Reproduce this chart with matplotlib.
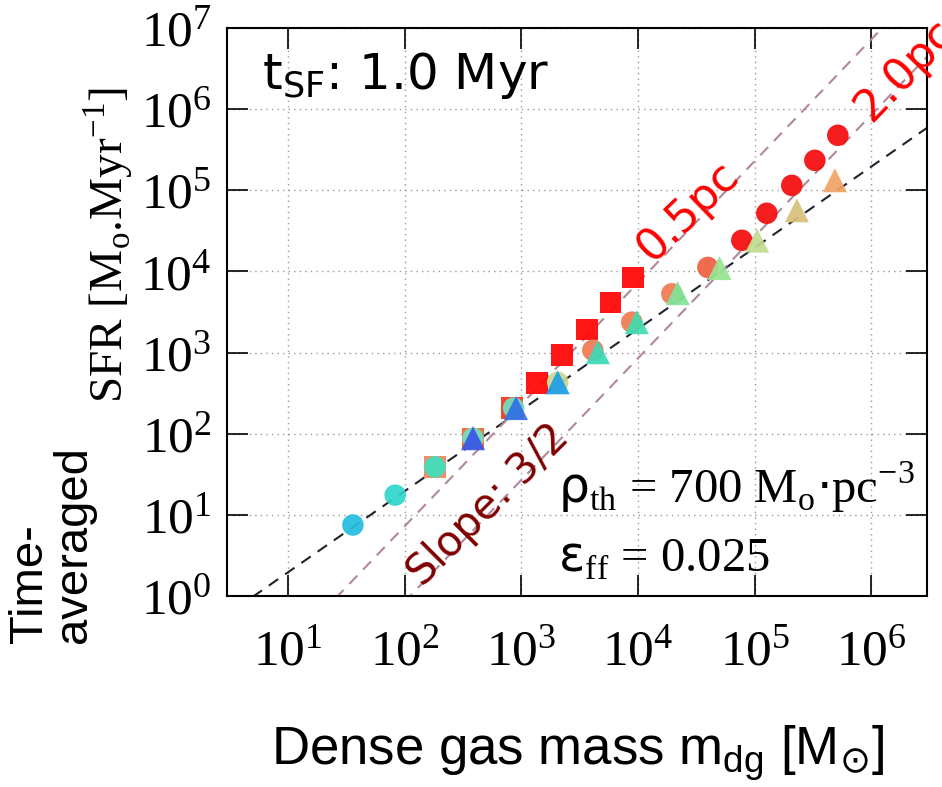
import numpy as np
import matplotlib
matplotlib.use("Agg")
import matplotlib.pyplot as plt

# ---------------- data ----------------
sq_m = [182, 385, 830, 1360, 2230, 3650, 5850, 9040]
sq_sfr = [39, 88, 207, 420, 930, 1940, 4170, 8490]

circ_m = [36, 83, 182, 385, 860, 2050, 4100, 8850, 19500, 39700,
          77600, 127000, 208000, 328000, 516000]
circ_sfr = [7.5, 17.5, 39, 88, 207, 430, 1070, 2370, 5300, 11200,
            24200, 52100, 115000, 234000, 476000]

tri_m = [385, 900, 2050, 4530, 9770, 21900, 50000, 105000, 230000, 487000]
tri_sfr = [88, 207, 430, 1010, 2370, 5400, 11000, 24000, 56700, 133000]

# reference model lines: log10(SFR) = slope*log10(m) + intercept
lin_slope, lin_icpt = 1.0, np.log10(0.196)
pc05_slope, pc05_icpt = 1.5, -2.14
pc20_slope, pc20_icpt = 1.5, -3.07

x_ticks = [1e1, 1e2, 1e3, 1e4, 1e5, 1e6]
y_ticks = [1e0, 1e1, 1e2, 1e3, 1e4, 1e5, 1e6, 1e7]

# ---------------- styles ----------------
sq_colors = ['#f08a5a', '#f06a30', '#f53a20', '#ff0a0a', '#ff0a0a',
             '#ff0a0a', '#ff0a0a', '#ff0a0a']
circ_colors = ['#22bde0', '#2fd6cc', '#3ee0c0', '#70e0c0', '#70e0c0',
               '#c8d890', '#f07a50', '#f07a50', '#f07a50', '#f06040',
               '#f50a0a', '#f50a0a', '#f50a0a', '#f50a0a', '#f50a0a']
tri_colors = ['#3a55e8', '#3070e8', '#1e9de8', '#3cd8b8', '#40dcb0',
              '#80e498', '#98e490', '#c0dc90', '#d8c07c', '#f0a464']

plt.rcParams['font.family'] = ['Liberation Serif', 'DejaVu Serif']

W, H = 942, 787
fig = plt.figure(figsize=(W / 100, H / 100), dpi=100)
ax = fig.add_axes([227 / W, 1 - 596 / H, 700 / W, 568 / H])
ax.set_xscale('log')
ax.set_yscale('log')
ax.set_xlim(3, 3e6)
ax.set_ylim(1, 1e7)

ax.grid(True, which='major', linestyle=(0, (1, 3)), color='#9a9a9a', linewidth=1.0)

xx = np.array([1.0, 1e7])
ax.plot(xx, 10 ** (lin_icpt) * xx ** lin_slope, linestyle=(0, (5.5, 4)),
        color='#222230', linewidth=1.5, zorder=2)
ax.plot(xx, 10 ** (pc05_icpt) * xx ** pc05_slope, linestyle=(0, (5.5, 4)),
        color='#b08898', linewidth=1.5, zorder=2)
ax.plot(xx, 10 ** (pc20_icpt) * xx ** pc20_slope, linestyle=(0, (5.5, 4)),
        color='#b08898', linewidth=1.5, zorder=2)

ax.scatter(sq_m, sq_sfr, marker='s', s=235, c=sq_colors, edgecolors='none',
           alpha=0.95, zorder=3)
ax.scatter(circ_m, circ_sfr, marker='o', s=240, c=circ_colors, edgecolors='none',
           alpha=0.92, zorder=4)
ax.scatter(tri_m, tri_sfr, marker='^', s=300, c=tri_colors, edgecolors='none',
           alpha=0.92, zorder=5)

ax.set_xticks(x_ticks)
ax.set_yticks(y_ticks)
ax.tick_params(which='major', direction='in', length=15, width=1.2,
               top=True, right=True, labelsize=37)
ax.tick_params(which='minor', direction='in', length=7, width=1.0,
               top=True, right=True)
ax.tick_params(axis='x', which='major', pad=24)
ax.tick_params(axis='y', which='major', pad=11)
for sp in ax.spines.values():
    sp.set_linewidth(1.5)

def fx(px):
    return px / W

def fy(py):
    return 1 - py / H

fig.text(fx(262), fy(89), r'$\mathregular{t_{SF}}$: 1.0 Myr', fontsize=36,
         family='DejaVu Sans', ha='left', va='baseline')

fig.text(fx(688), fy(212), '0.5pc', fontsize=32, color='#ff0000',
         family='DejaVu Sans', rotation=44, ha='center', va='center',
         rotation_mode='anchor')
fig.text(fx(905), fy(70), '2.0pc', fontsize=32, color='#ff0000',
         family='DejaVu Sans', rotation=46, ha='center', va='center',
         rotation_mode='anchor')
fig.text(fx(488), fy(505), 'Slope: 3/2', fontsize=30, color='#800000',
         family='DejaVu Sans', rotation=45, ha='center', va='center',
         rotation_mode='anchor')

fig.text(fx(558), fy(503),
         r'$\mathrm{\rho}_{\mathdefault{th}}$ = 700 M$_{\mathdefault{o}}$$\cdot$pc$^{\mathdefault{-3}}$',
         fontsize=35, family='Liberation Serif', math_fontfamily='dejavusans',
         ha='left', va='baseline')
fig.text(fx(558), fy(572),
         r'$\mathrm{\varepsilon}_{\mathdefault{ff}}$ = 0.025',
         fontsize=35, family='Liberation Serif', math_fontfamily='dejavusans',
         ha='left', va='baseline')

# axis labels
fig.text(fx(108), fy(245),
         r'SFR [M$_{\mathdefault{o}}$.Myr$^{\mathdefault{-1}}$]',
         fontsize=34, family='Liberation Serif', rotation=90,
         ha='center', va='center')
fig.text(fx(52), fy(545), 'Time-\naveraged', fontsize=34,
         family=['Liberation Sans Narrow', 'Liberation Sans'], rotation=90,
         ha='center', va='center', linespacing=1.0, multialignment='left')
fig.text(fx(578), fy(754),
         r'Dense gas mass m$_{\mathdefault{dg}}$ [M$_{\odot}$]',
         fontsize=38, family='Liberation Sans', math_fontfamily='dejavusans',
         ha='center', va='center')

fig.savefig('out.png', dpi=100)
